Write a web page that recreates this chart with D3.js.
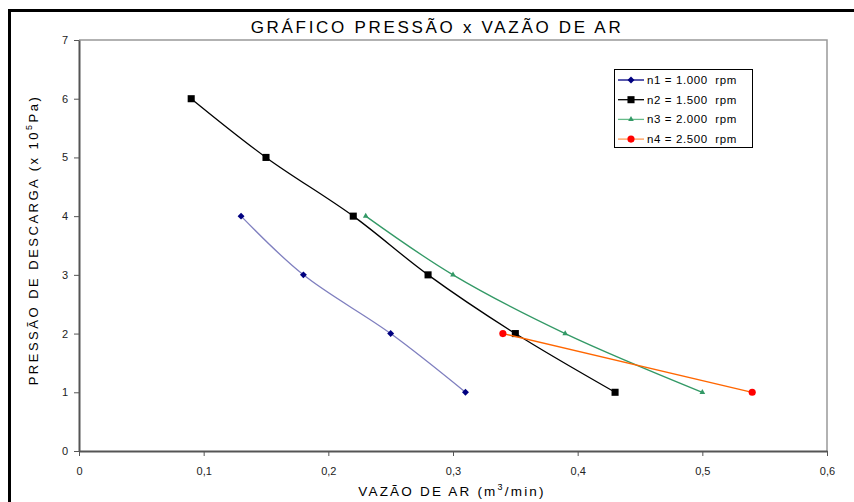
<!DOCTYPE html>
<html>
<head>
<meta charset="utf-8">
<script src="https://cdn.jsdelivr.net/npm/d3@7"></script>
<style>
  body { margin: 0; background: #fff; }
  svg { display: block; }
</style>
</head>
<body>
<svg width="854" height="502"></svg>
<script>
// dados
var n1X = [0.13, 0.18, 0.25, 0.31];
var n1Y = [4, 3, 2, 1];
var n2X = [0.09, 0.15, 0.22, 0.28, 0.35, 0.43];
var n2Y = [6, 5, 4, 3, 2, 1];
var n3X = [0.23, 0.30, 0.39, 0.50];
var n3Y = [4, 3, 2, 1];
var n4X = [0.34, 0.54];
var n4Y = [2, 1];
var seriesNames = ["n1 = 1.000  rpm", "n2 = 1.500  rpm", "n3 = 2.000  rpm", "n4 = 2.500  rpm"];
var xTicks = [0, 0.1, 0.2, 0.3, 0.4, 0.5, 0.6];
var yTicks = [0, 1, 2, 3, 4, 5, 6, 7];

// losango = quadrado girado 45 graus
var series = [
    {name: seriesNames[0], xs: n1X, ys: n1Y, line: "#7f7fbf", mark: "#000080", sym: d3.symbolSquare, rot: 45, size: 24, legLine: "#000080"},
    {name: seriesNames[1], xs: n2X, ys: n2Y, line: "#000000", mark: "#000000", sym: d3.symbolSquare, rot: 0, size: 50, legLine: "#000000"},
    {name: seriesNames[2], xs: n3X, ys: n3Y, line: "#339966", mark: "#339966", sym: d3.symbolTriangle, rot: 0, size: 14, legLine: "#66bb88"},
    {name: seriesNames[3], xs: n4X, ys: n4Y, line: "#ff6600", mark: "#ff0000", sym: d3.symbolCircle, rot: 0, size: 40, legLine: "#ff9955"}
];

var svg = d3.select("svg");

// moldura externa
svg.append("rect")
    .attr("x", 9.5).attr("y", 10.5)
    .attr("width", 860).attr("height", 520)
    .attr("fill", "none").attr("stroke", "#000").attr("stroke-width", 3);

var x = d3.scaleLinear().domain([0, 0.6]).range([79, 827]);
var y = d3.scaleLinear().domain([0, 7]).range([451, 40]);

// borda da area de plotagem
svg.append("path")
    .attr("d", "M" + x(0) + "," + y(7) + "H" + x(0.6) + "V" + y(0))
    .attr("fill", "none").attr("stroke", "#999").attr("stroke-width", 1.5);

var fmt = function (d) { return String(d).replace(".", ","); };

var xAxis = svg.append("g")
    .attr("transform", "translate(0," + y(0) + ")")
    .call(d3.axisBottom(x).tickValues(xTicks).tickSize(5).tickSizeOuter(0).tickFormat(fmt));
var yAxis = svg.append("g")
    .attr("transform", "translate(" + x(0) + ",0)")
    .call(d3.axisLeft(y).tickValues(yTicks).tickSize(5).tickSizeOuter(0).tickFormat(d3.format("d")));

[xAxis, yAxis].forEach(function (g) {
    g.select(".domain").attr("stroke", "#555").attr("stroke-width", 2);
    g.selectAll(".tick line").attr("stroke", "#555");
    g.selectAll("text")
        .attr("font-family", "'Liberation Sans', Arial, sans-serif")
        .attr("font-size", 11).attr("fill", "#222");
});
xAxis.selectAll("text").attr("dy", "1.45em");
yAxis.selectAll("text").attr("x", -11);

var line = d3.line()
    .x(function (d) { return x(d[0]); })
    .y(function (d) { return y(d[1]); })
    .curve(d3.curveCatmullRom.alpha(0.5));

series.forEach(function (s) {
    var pts = s.xs.map(function (v, i) { return [v, s.ys[i]]; });
    svg.append("path")
        .datum(pts)
        .attr("d", line)
        .attr("fill", "none")
        .attr("stroke", s.line)
        .attr("stroke-width", 1.3);
    svg.append("g").selectAll("path")
        .data(pts)
        .enter().append("path")
        .attr("d", d3.symbol().type(s.sym).size(s.size))
        .attr("transform", function (d) { return "translate(" + x(d[0]) + "," + y(d[1]) + ") rotate(" + s.rot + ")"; })
        .attr("fill", s.mark);
});

// legenda
var leg = svg.append("g");
leg.append("rect")
    .attr("x", 614.5).attr("y", 69.5).attr("width", 138).attr("height", 78)
    .attr("fill", "#fff").attr("stroke", "#000").attr("stroke-width", 1);
series.forEach(function (s, i) {
    var ly = 80 + i * 19.7;
    leg.append("line")
        .attr("x1", 618).attr("x2", 644).attr("y1", ly).attr("y2", ly)
        .attr("stroke", s.legLine).attr("stroke-width", 1.3);
    leg.append("path")
        .attr("d", d3.symbol().type(s.sym).size(s.size))
        .attr("transform", "translate(631," + ly + ") rotate(" + s.rot + ")")
        .attr("fill", s.mark);
    leg.append("text")
        .attr("x", 647).attr("y", ly + 4)
        .attr("font-family", "'Liberation Sans', Arial, sans-serif")
        .attr("font-size", 11.5)
        .attr("letter-spacing", 0.6)
        .attr("xml:space", "preserve")
        .style("white-space", "pre")
        .text(s.name);
});

// titulos
svg.append("text")
    .attr("x", 437).attr("y", 33)
    .attr("text-anchor", "middle")
    .attr("font-family", "'Liberation Sans Narrow', 'Arial Narrow', sans-serif")
    .attr("font-size", 17)
    .attr("letter-spacing", 2.7)
    .text("GRÁFICO PRESSÃO x VAZÃO DE AR");

var xl = svg.append("text")
    .attr("x", 452).attr("y", 496)
    .attr("text-anchor", "middle")
    .attr("font-family", "'Liberation Sans Narrow', 'Arial Narrow', sans-serif")
    .attr("font-size", 13.5)
    .attr("letter-spacing", 2.2);
xl.append("tspan").text("VAZÃO DE AR (m");
xl.append("tspan").attr("font-size", 9).attr("dy", -6).text("3");
xl.append("tspan").attr("dy", 6).text("/min)");

var yl = svg.append("text")
    .attr("transform", "translate(38,240) rotate(-90)")
    .attr("text-anchor", "middle")
    .attr("font-family", "'Liberation Sans', Arial, sans-serif")
    .attr("font-size", 13)
    .attr("letter-spacing", 2.5);
yl.append("tspan").text("PRESSÃO DE DESCARGA (x 10");
yl.append("tspan").attr("font-size", 9).attr("dy", -6).text("5");
yl.append("tspan").attr("dy", 6).text("Pa)");
</script>
</body>
</html>
